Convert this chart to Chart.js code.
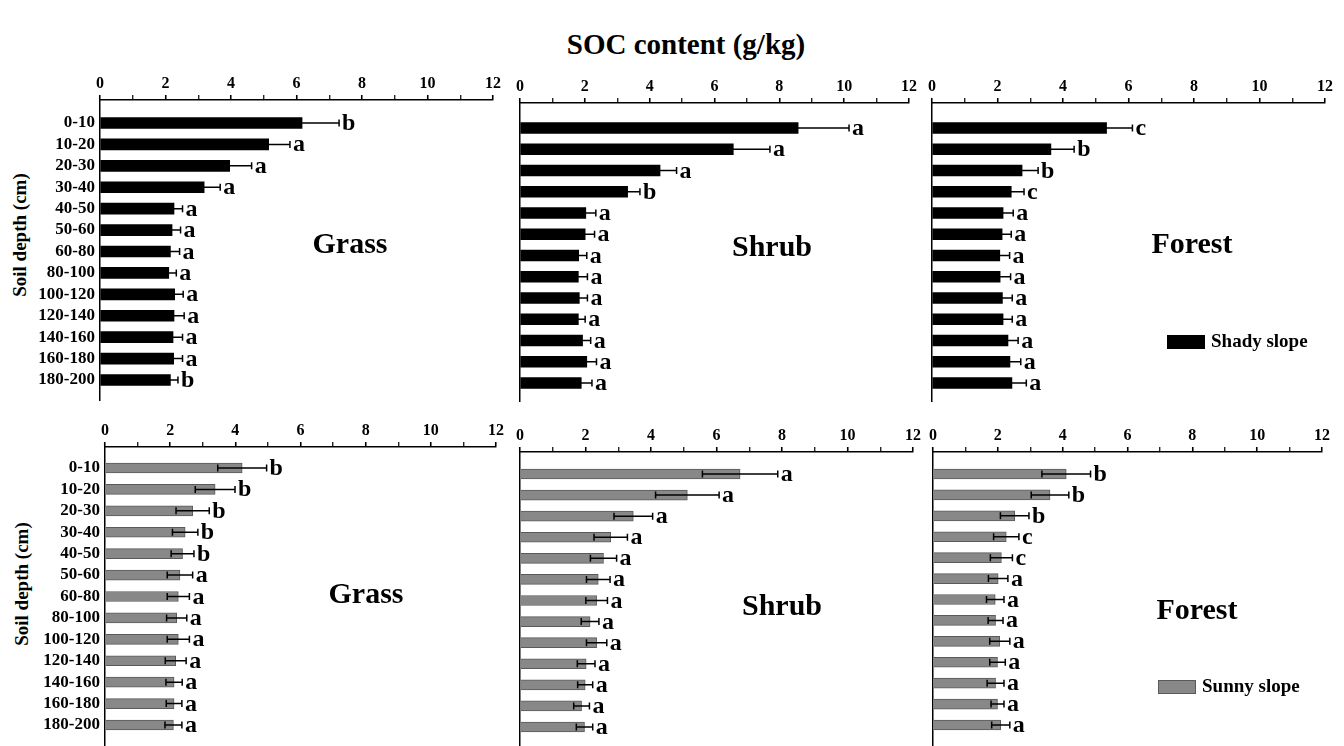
<!DOCTYPE html>
<html>
<head>
<meta charset="utf-8">
<title>SOC content (g/kg)</title>
<script src="https://cdn.jsdelivr.net/npm/chart.js@4.4.1/dist/chart.umd.min.js"></script>
<style>
  html, body { margin: 0; padding: 0; background: #fff; }
  body { width: 1344px; height: 746px; position: relative; overflow: hidden;
         font-family: 'Liberation Serif', 'Times New Roman', serif; font-weight: bold; color: #000; }
  canvas { position: absolute; }
  .title { position: absolute; left: 14px; top: 28px; width: 1344px; text-align: center; font-size: 29px; line-height: 32px; }
  .ytitle { position: absolute; font-size: 19px; white-space: nowrap;
            transform: translate(-50%, -50%) rotate(-90deg); }
</style>
</head>
<body>
<div class="title">SOC content (g/kg)</div>
<div class="ytitle" style="left:20px; top:235px;">Soil depth (cm)</div>
<div class="ytitle" style="left:22px; top:584px;">Soil depth (cm)</div>

<canvas id="grassShady"></canvas>
<canvas id="shrubShady"></canvas>
<canvas id="forestShady"></canvas>
<canvas id="grassSunny"></canvas>
<canvas id="shrubSunny"></canvas>
<canvas id="forestSunny"></canvas>

<script>
// depth classes and x ticks
const depths = ['0-10', '10-20', '20-30', '30-40', '40-50', '50-60', '60-80', '80-100',
  '100-120', '120-140', '140-160', '160-180', '180-200'];
const xMin = 0;
const xMax = 12;

// shady slope
const grassShady = [6.17, 5.15, 3.96, 3.18, 2.26, 2.20, 2.15, 2.10, 2.28, 2.26, 2.23, 2.25, 2.15];
const grassShadyErr = [1.13, 0.65, 0.67, 0.49, 0.26, 0.26, 0.28, 0.23, 0.26, 0.31, 0.29, 0.27, 0.23];
const grassShadyLetters = ['b', 'a', 'a', 'a', 'a', 'a', 'a', 'a', 'a', 'a', 'a', 'a', 'b'];

const shrubShady = [8.58, 6.58, 4.32, 3.32, 2.03, 2.01, 1.81, 1.80, 1.83, 1.80, 1.93, 2.06, 1.89];
const shrubShadyErr = [1.57, 1.13, 0.51, 0.38, 0.31, 0.29, 0.25, 0.28, 0.25, 0.21, 0.25, 0.30, 0.33];
const shrubShadyLetters = ['a', 'a', 'a', 'b', 'a', 'a', 'a', 'a', 'a', 'a', 'a', 'a', 'a'];

const forestShady = [5.33, 3.63, 2.75, 2.42, 2.17, 2.14, 2.07, 2.08, 2.15, 2.17, 2.32, 2.38, 2.44];
const forestShadyErr = [0.79, 0.71, 0.49, 0.39, 0.31, 0.28, 0.30, 0.32, 0.30, 0.28, 0.31, 0.33, 0.44];
const forestShadyLetters = ['c', 'b', 'b', 'c', 'a', 'a', 'a', 'a', 'a', 'a', 'a', 'a', 'a'];

// sunny slope
const grassSunny = [4.21, 3.38, 2.69, 2.46, 2.38, 2.30, 2.25, 2.20, 2.25, 2.17, 2.12, 2.12, 2.10];
const grassSunnyErr = [0.75, 0.61, 0.51, 0.39, 0.35, 0.39, 0.34, 0.31, 0.34, 0.32, 0.25, 0.24, 0.26];
const grassSunnyLetters = ['b', 'b', 'b', 'b', 'b', 'a', 'a', 'a', 'a', 'a', 'a', 'a', 'a'];

const shrubSunny = [6.72, 5.11, 3.46, 2.77, 2.55, 2.39, 2.34, 2.14, 2.34, 2.02, 1.99, 1.88, 1.97];
const shrubSunnyErr = [1.15, 0.97, 0.59, 0.51, 0.40, 0.36, 0.33, 0.27, 0.31, 0.27, 0.23, 0.24, 0.25];
const shrubSunnyLetters = ['a', 'a', 'a', 'a', 'a', 'a', 'a', 'a', 'a', 'a', 'a', 'a', 'a'];

const forestSunny = [4.11, 3.61, 2.52, 2.26, 2.11, 2.01, 1.92, 1.93, 2.06, 1.99, 1.93, 1.99, 2.09];
const forestSunnyErr = [0.75, 0.58, 0.44, 0.39, 0.34, 0.30, 0.27, 0.23, 0.31, 0.24, 0.26, 0.20, 0.28];
const forestSunnyLetters = ['b', 'b', 'b', 'c', 'c', 'a', 'a', 'a', 'a', 'a', 'a', 'a', 'a'];

const FONT = "'Liberation Serif', 'Times New Roman', serif";
const shadyColor = '#000000';
const sunnyColor = '#888888';

// page layout of each panel (plot box in page pixels)
const panels = [
  { id: 'grassShady', name: 'Grass', values: grassShady, errors: grassShadyErr, letters: grassShadyLetters,
    color: shadyColor, border: shadyColor, thick: 11, yLabels: true,
    left: 100, right: 493, axis: 100, first: 123, last: 380, bottom: 401, nameX: 350, nameY: 245 },
  { id: 'shrubShady', name: 'Shrub', values: shrubShady, errors: shrubShadyErr, letters: shrubShadyLetters,
    color: shadyColor, border: shadyColor, thick: 11, yLabels: false,
    left: 520, right: 909, axis: 103, first: 128, last: 383, bottom: 402, nameX: 772, nameY: 248 },
  { id: 'forestShady', name: 'Forest', values: forestShady, errors: forestShadyErr, letters: forestShadyLetters,
    color: shadyColor, border: shadyColor, thick: 11, yLabels: false,
    left: 932, right: 1325, axis: 103, first: 128, last: 383, bottom: 402, nameX: 1192, nameY: 245,
    legend: { text: 'Shady slope', x: 1167, y: 335 } },
  { id: 'grassSunny', name: 'Grass', values: grassSunny, errors: grassSunnyErr, letters: grassSunnyLetters,
    color: sunnyColor, border: '#5a5a5a', thick: 10, yLabels: true,
    left: 105, right: 496, axis: 447, first: 468, last: 725, bottom: 746, nameX: 366, nameY: 595 },
  { id: 'shrubSunny', name: 'Shrub', values: shrubSunny, errors: shrubSunnyErr, letters: shrubSunnyLetters,
    color: sunnyColor, border: '#5a5a5a', thick: 10, yLabels: false,
    left: 520, right: 913, axis: 452, first: 474, last: 727, bottom: 746, nameX: 782, nameY: 607 },
  { id: 'forestSunny', name: 'Forest', values: forestSunny, errors: forestSunnyErr, letters: forestSunnyLetters,
    color: sunnyColor, border: '#5a5a5a', thick: 10, yLabels: false,
    left: 933, right: 1322, axis: 452, first: 474, last: 725, bottom: 746, nameX: 1197, nameY: 611,
    legend: { text: 'Sunny slope', x: 1158, y: 680 } },
];

const xAxisHeight = 40;
const rightPad = 14;

function drawExtras(chart, p, cvLeft, cvTop) {
  const ctx = chart.ctx;
  const xs = chart.scales.x;
  const ys = chart.scales.y;
  ctx.save();
  ctx.strokeStyle = '#000';
  ctx.fillStyle = '#000';
  ctx.lineWidth = 1.5;
  ctx.font = 'bold 24px ' + FONT;
  ctx.textAlign = 'left';
  ctx.textBaseline = 'alphabetic';
  p.values.forEach((v, i) => {
    const yy = ys.getPixelForValue(i);
    const x0 = xs.getPixelForValue(v - p.errors[i]);
    const x1 = xs.getPixelForValue(v + p.errors[i]);
    ctx.beginPath();
    ctx.moveTo(x0, yy); ctx.lineTo(x1, yy);
    ctx.moveTo(x0, yy - 3.5); ctx.lineTo(x0, yy + 3.5);
    ctx.moveTo(x1, yy - 3.5); ctx.lineTo(x1, yy + 3.5);
    ctx.stroke();
    ctx.fillText(p.letters[i], x1 + 3, yy + 7);
  });

  // panel name
  ctx.font = 'bold 30px ' + FONT;
  ctx.textAlign = 'center';
  ctx.textBaseline = 'middle';
  ctx.fillText(p.name, p.nameX - cvLeft, p.nameY - cvTop);

  // legend
  if (p.legend) {
    const lx = p.legend.x - cvLeft;
    const ly = p.legend.y - cvTop;
    ctx.fillStyle = p.color;
    ctx.fillRect(lx, ly, 38, 14);
    ctx.strokeStyle = p.border;
    ctx.lineWidth = 1;
    ctx.strokeRect(lx + 0.5, ly + 0.5, 37, 13);
    ctx.fillStyle = '#000';
    ctx.font = 'bold 19px ' + FONT;
    ctx.textAlign = 'left';
    ctx.fillText(p.legend.text, lx + 44, ly + 7);
  }
  ctx.restore();
}

panels.forEach((p) => {
  const yWidth = p.yLabels ? 100 : 10;
  const cvLeft = p.left - yWidth;
  const cvTop = p.axis - xAxisHeight;
  const canvas = document.getElementById(p.id);
  canvas.width = p.right + rightPad - cvLeft;
  canvas.height = p.bottom - cvTop;
  canvas.style.left = cvLeft + 'px';
  canvas.style.top = cvTop + 'px';

  const step = (p.last - p.first) / (depths.length - 1);
  const yMin = -(p.first - p.axis) / step;
  const yMax = depths.length - 1 + (p.bottom - p.last) / step;

  const config = {
    type: 'bar',
    data: {
      labels: depths,
      datasets: [{
        data: p.values.map((v, i) => ({ x: v, y: i })),
        backgroundColor: p.color,
        borderColor: p.border,
        borderWidth: p.color === p.border ? 0 : 1,
        barThickness: p.thick,
      }],
    },
    options: {
      indexAxis: 'y',
      responsive: false,
      animation: false,
      devicePixelRatio: 1,
      layout: { padding: { left: 0, right: rightPad, top: 0, bottom: 0 } },
      plugins: { legend: { display: false }, tooltip: { enabled: false } },
      scales: {
        x: {
          type: 'linear',
          position: 'top',
          min: xMin,
          max: xMax,
          grid: {
            drawOnChartArea: false, drawTicks: true, tickLength: 5, color: '#000',
            lineWidth: 1.5,
            tickWidth: (c) => (c.tick && c.tick.value % 2 ? 1.2 : 1.6),
          },
          border: { display: true, color: '#000', width: 1.5 },
          ticks: {
            stepSize: 1, autoSkip: false, maxRotation: 0, padding: 2, color: '#000',
            font: { family: FONT, size: 16, weight: 'bold' },
            callback: (v) => (v % 2 === 0 ? v : ''),
          },
          afterFit: (s) => { s.height = xAxisHeight; s.paddingLeft = 0; s.paddingRight = 0; },
        },
        y: {
          type: 'linear',
          reverse: true,
          offset: false,
          min: yMin,
          max: yMax,
          grid: { display: false, drawTicks: false },
          border: { display: true, color: '#000', width: 1.5 },
          ticks: {
            display: p.yLabels, stepSize: 1, autoSkip: false, padding: 5, color: '#000',
            font: { family: FONT, size: 17, weight: 'bold' },
            callback: (v) => {
              const r = Math.round(v);
              return Math.abs(v - r) < 1e-6 && r >= 0 && r < depths.length ? depths[r] : '';
            },
          },
          afterFit: (s) => { s.width = yWidth; s.paddingTop = 0; s.paddingBottom = 0; },
        },
      },
    },
    plugins: [{ id: 'extras', afterDatasetsDraw: (chart) => drawExtras(chart, p, cvLeft, cvTop) }],
  };

  new Chart(canvas, config);
});
</script>
</body>
</html>
